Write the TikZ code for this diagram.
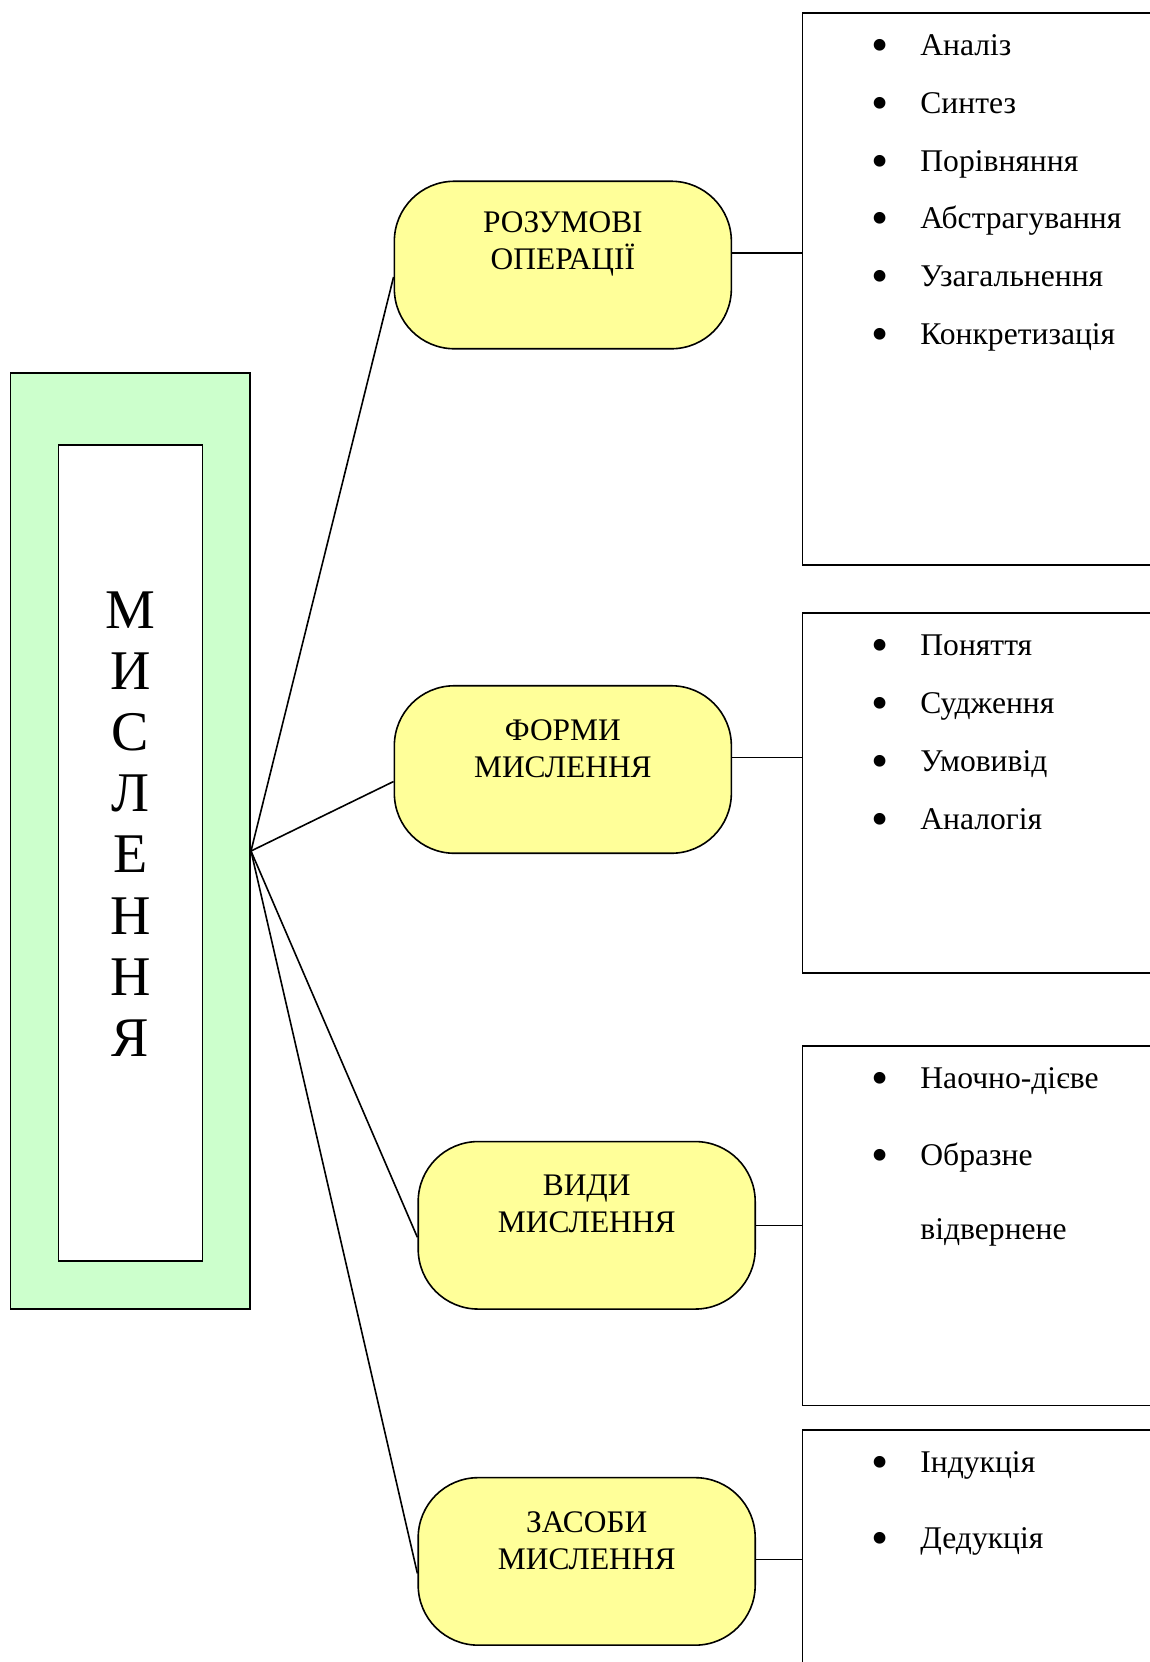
\documentclass[tikz,border=0pt]{standalone}
\usepackage{fontspec}
\setmainfont{Liberation Serif}
\usetikzlibrary{positioning}
\definecolor{framegreen}{HTML}{CCFFCC}
\definecolor{kindyellow}{HTML}{FFFF99}
\newcommand{\itembul}{\makebox[24.5pt][l]{\raisebox{-3.1pt}{\scalebox{1.55}{\textbullet}}}}
\begin{document}
\begin{tikzpicture}[x=0.5pt, y=-0.5pt,
  greenframe/.style={draw, line width=0.8pt, fill=framegreen, inner sep=0pt,
    minimum width=119.8pt, minimum height=468pt},
  innerbox/.style={draw, line width=0.8pt, fill=white, inner sep=0pt,
    minimum width=72pt, minimum height=408pt},
  kind/.style={draw, line width=0.8pt, fill=kindyellow, rounded corners=30pt,
    minimum width=168.5pt, minimum height=83.75pt, inner sep=0pt},
  kindtext/.style={align=center, font=\fontsize{15.7}{18.5}\selectfont},
  listbox/.style={draw, line width=0.8pt, inner sep=0pt, minimum width=198.8pt},
  item/.style={anchor=west, inner sep=0pt, text height=12pt, text depth=2pt,
    font=\fontsize{15.8}{18.5}\selectfont},
  link/.style={line width=0.8pt}]
\clip (0,0) rectangle (1150,1662);
% left block
\node[greenframe] (thinking) at (130.4,841) {};
\node[innerbox] (thinking-in) at (130.35,853.25) {};
\node[align=center, font=\fontsize{28}{30.6}\selectfont] (thinking-t) at (130.4,824)
  {М\\И\\С\\Л\\Е\\Н\\Н\\Я};
\coordinate (hub) at ([yshift=-5pt]thinking.east);
% middle column
\node[kind] (ops) at (562.85,265) {};
\node[kindtext] (ops-t) at ([yshift=10.5pt]ops.center) {РОЗУМОВІ\\ОПЕРАЦІЇ};
\node[kind] (forms) at (562.85,769.5) {};
\node[kindtext] (forms-t) at ([yshift=10.5pt]forms.center) {ФОРМИ\\МИСЛЕННЯ};
\node[kind] (kinds) at (586.7,1225.3) {};
\node[kindtext] (kinds-t) at ([yshift=10.5pt]kinds.center) {ВИДИ\\МИСЛЕННЯ};
\node[kind] (means) at (586.7,1561.4) {};
\node[kindtext] (means-t) at ([yshift=10.5pt]means.center) {ЗАСОБИ\\МИСЛЕННЯ};
% right column
\node[listbox, minimum height=276.15pt] (opsbox) at (1001.2,288.85) {};
\node[listbox, minimum height=180.15pt] (formsbox) at (1001.2,792.85) {};
\node[listbox, minimum height=179.8pt] (kindsbox) at (1001.2,1225.8) {};
\node[listbox, minimum height=180pt] (meansbox) at (1001.2,1610) {};
\foreach \t [count=\i] in {Аналіз,Синтез,Порівняння,Абстрагування,Узагальнення,Конкретизація}
  \node[item] (ops-\i) at (871,{-12.1+57.7*\i}) {\itembul\t};
\foreach \t [count=\i] in {Поняття,Судження,Умовивід,Аналогія}
  \node[item] (forms-\i) at (871,{587.6+57.9*\i}) {\itembul\t};
\node[item] (kinds-1) at (871,1078) {\itembul Наочно-дієве};
\node[item] (kinds-2) at (871,1155.4) {\itembul Образне};
\node[item] (kinds-3) at (920,1229.6) {відвернене};
\node[item] (means-1) at (871,1462.7) {\itembul Індукція};
\node[item] (means-2) at (871,1538) {\itembul Дедукція};
% connectors
\foreach \k in {ops,forms,kinds,means}
  \draw[link] (hub) -- ([yshift=-6pt]\k.west);
\draw[link] ([yshift=6pt]ops.east) -- ([yshift=6pt]ops.east -| opsbox.west);
\draw[link] ([yshift=6pt]forms.east) -- ([yshift=6pt]forms.east -| formsbox.west);
\draw[link] (kinds.east) -- (kinds.east -| kindsbox.west);
\draw[link] ([yshift=1pt]means.east) -- ([yshift=1pt]means.east -| meansbox.west);
\end{tikzpicture}
\end{document}
